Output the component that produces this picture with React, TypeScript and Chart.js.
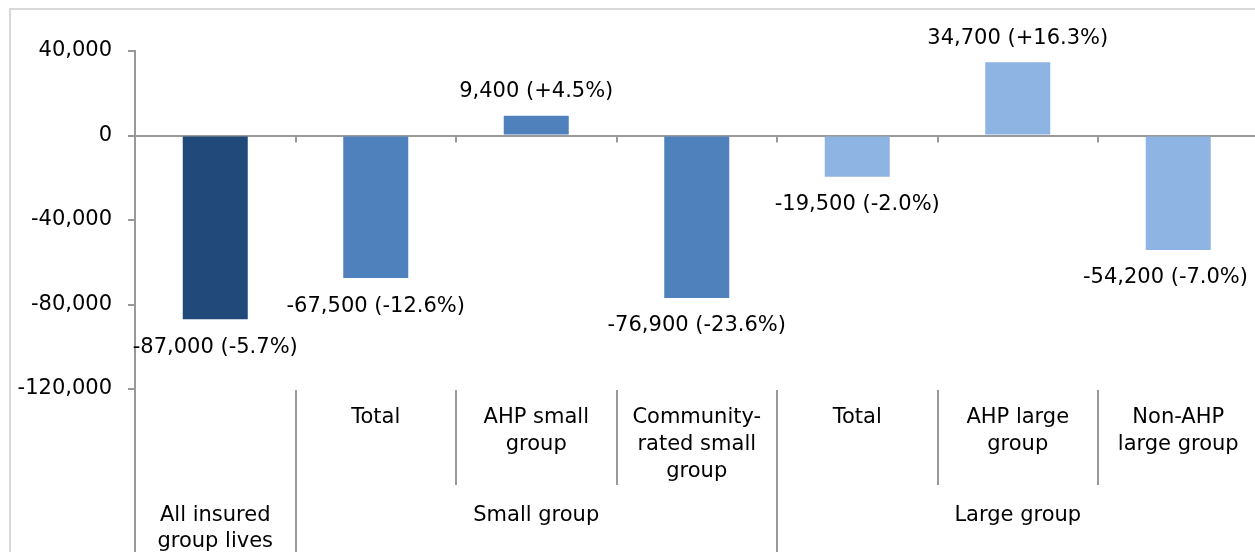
import React, { useEffect, useRef } from "react";
import { Chart, registerables } from "chart.js";

Chart.register(...registerables);

// ---- Data ----
const categories: string[] = [
  "All insured group lives",
  "Small group - Total",
  "AHP small group",
  "Community-rated small group",
  "Large group - Total",
  "AHP large group",
  "Non-AHP large group",
];
const subLabels: string[][] = [
  [],
  ["Total"],
  ["AHP small", "group"],
  ["Community-", "rated small", "group"],
  ["Total"],
  ["AHP large", "group"],
  ["Non-AHP", "large group"],
];
const groupLabels: string[][] = [["All insured", "group lives"], ["Small group"], ["Large group"]];
const groupStart: number[] = [0, 1, 4];
const groupEnd: number[] = [0, 3, 6];
const changeValues: number[] = [-87000, -67500, 9400, -76900, -19500, 34700, -54200];
const changePercents: number[] = [-5.7, -12.6, 4.5, -23.6, -2.0, 16.3, -7.0];
const barColors: string[] = ["#214A7B", "#4F81BD", "#4F81BD", "#4F81BD", "#8EB4E3", "#8EB4E3", "#8EB4E3"];
const yMin = -120000;
const yMax = 40000;
const yStep = 40000;

const FONT = '"DejaVu Sans", Verdana, sans-serif';
const FONT_SIZE = 21;
const LINE = "#999999";
const CANVAS_W = 1270;
const CANVAS_H = 560;
const VISIBLE_RIGHT = 1248;

const fmtNum = (v: number) => v.toLocaleString("en-US");
const fmtPct = (p: number) => (p > 0 ? "+" : "") + p.toFixed(1) + "%";

const categoryAxisPlugin = {
  id: "categoryAxisPlugin",
  afterDraw(chart: any) {
    const ctx = chart.ctx as CanvasRenderingContext2D;
    const xs = chart.scales.x;
    const ys = chart.scales.y;
    const area = chart.chartArea;
    const n = categories.length;
    const catW = (xs.right - xs.left) / n;
    const bx = (k: number) => xs.left + k * catW;
    const zeroY = ys.getPixelForValue(0);
    const H = chart.height;

    ctx.save();
    ctx.strokeStyle = LINE;
    ctx.lineWidth = 2;
    // tick marks on zero line
    for (let k = 1; k <= n; k++) {
      const x = Math.round(bx(k));
      ctx.beginPath();
      ctx.moveTo(x, zeroY);
      ctx.lineTo(x, zeroY + 7);
      ctx.stroke();
    }
    // extend axis line downward
    const axX = Math.round(xs.left);
    ctx.beginPath();
    ctx.moveTo(axX, area.bottom);
    ctx.lineTo(axX, H);
    ctx.stroke();
    // separators
    const groupBoundaries = new Set<number>();
    groupStart.forEach((s) => groupBoundaries.add(s));
    groupEnd.forEach((e) => groupBoundaries.add(e + 1));
    for (let k = 1; k <= n; k++) {
      const x = Math.round(bx(k));
      const full = groupBoundaries.has(k);
      ctx.beginPath();
      ctx.moveTo(x, area.bottom + 1);
      ctx.lineTo(x, full ? H : area.bottom + 96);
      ctx.stroke();
    }

    // labels
    ctx.fillStyle = "#000";
    ctx.font = `${FONT_SIZE}px ${FONT}`;
    ctx.textAlign = "center";
    ctx.textBaseline = "middle";
    const lh = 27;
    for (let i = 0; i < n; i++) {
      const cx = xs.getPixelForValue(i);
      subLabels[i].forEach((ln, j) => {
        ctx.fillText(ln, cx, area.bottom + 29 + j * lh);
      });
    }
    for (let g = 0; g < groupLabels.length; g++) {
      const cx = (bx(groupStart[g]) + bx(groupEnd[g] + 1)) / 2;
      groupLabels[g].forEach((ln, j) => {
        ctx.fillText(ln, cx, area.bottom + 127 + j * 26);
      });
    }

    // data labels
    const meta = chart.getDatasetMeta(0);
    meta.data.forEach((el: any, i: number) => {
      const v = changeValues[i];
      const text = `${fmtNum(v)} (${fmtPct(changePercents[i])})`;
      const w = ctx.measureText(text).width;
      const x = Math.min(el.x, VISIBLE_RIGHT - w / 2);
      const y = v < 0 ? el.y + 28 : el.y - 24;
      ctx.fillText(text, x, y);
    });
    ctx.restore();
  },
};

export default function App() {
  const ref = useRef<HTMLCanvasElement | null>(null);
  useEffect(() => {
    if (!ref.current) return;
    Chart.defaults.font.family = FONT;
    Chart.defaults.font.size = FONT_SIZE;
    const chart = new Chart(ref.current, {
      type: "bar",
      data: {
        labels: categories,
        datasets: [
          {
            data: changeValues,
            backgroundColor: barColors,
            borderWidth: 0,
            categoryPercentage: 1,
            barPercentage: 0.405,
          },
        ],
      },
      options: {
        responsive: false,
        animation: false,
        devicePixelRatio: 1,
        layout: { padding: { top: 51, left: 0, right: CANVAS_W - 1258.5, bottom: CANVAS_H - 389 } },
        plugins: { legend: { display: false }, tooltip: { enabled: false } },
        scales: {
          x: { display: false },
          y: {
            min: yMin,
            max: yMax,
            ticks: {
              stepSize: yStep,
              padding: 16,
              color: "#000",
              font: { family: FONT, size: FONT_SIZE },
              callback: (v: any) => fmtNum(Number(v)),
            },
            grid: {
              drawOnChartArea: true,
              drawTicks: true,
              tickLength: 7,
              lineWidth: 2,
              color: (c: any) => (c.tick && c.tick.value === 0 ? LINE : "rgba(0,0,0,0)"),
              tickColor: LINE,
            },
            border: { display: true, color: LINE, width: 2 },
            afterFit: (s: any) => {
              s.width = 135;
            },
          },
        },
      },
      plugins: [categoryAxisPlugin],
    } as any);
    return () => chart.destroy();
  }, []);

  return (
    <div style={{ position: "fixed", left: 0, top: 0, width: 1255, height: 552, overflow: "hidden", background: "#fff" }}>
      <canvas
        ref={ref}
        width={CANVAS_W}
        height={CANVAS_H}
        style={{ position: "absolute", left: 0, top: 0, width: CANVAS_W, height: CANVAS_H }}
      />
      <div
        style={{
          position: "absolute",
          left: 9,
          top: 8,
          width: 1400,
          height: 700,
          borderTop: "2px solid #D9D9D9",
          borderLeft: "2px solid #D9D9D9",
          pointerEvents: "none",
        }}
      />
    </div>
  );
}
